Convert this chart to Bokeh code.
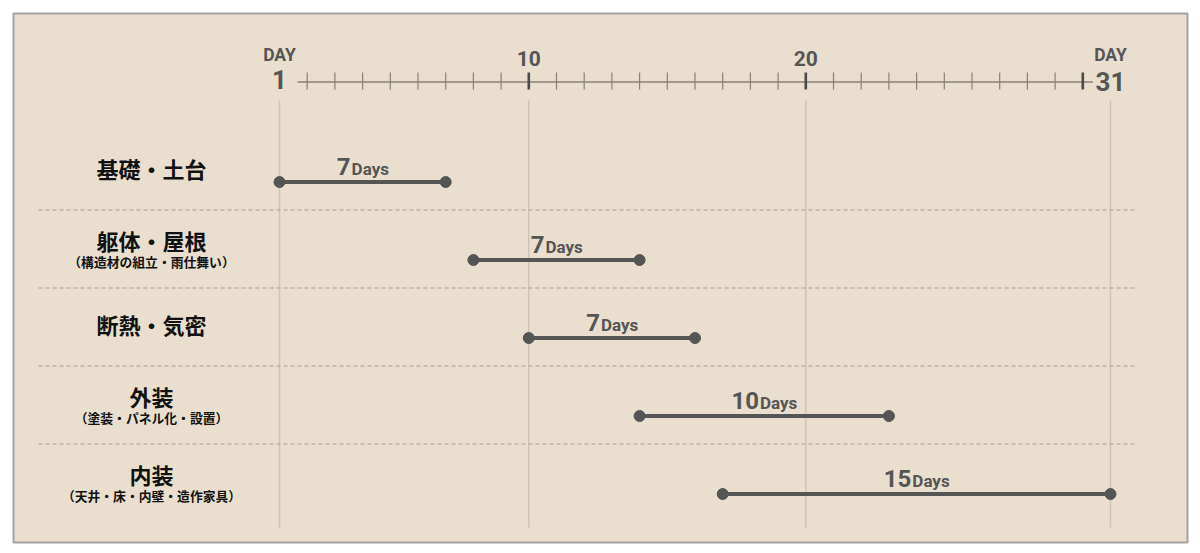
from bokeh.plotting import figure
from bokeh.models import Range1d, ColumnDataSource
from bokeh.core.properties import value
from bokeh.embed import file_html
from bokeh.resources import INLINE

# ---------------- data ----------------
tasks = ["基礎・土台", "躯体・屋根", "断熱・気密", "外装", "内装"]
task_notes = ["", "（構造材の組立・雨仕舞い）", "", "（塗装・パネル化・設置）", "（天井・床・内壁・造作家具）"]
start_day = [1, 8, 10, 14, 17]
end_day = [7, 14, 16, 23, 31]
duration_days = [7, 7, 7, 10, 15]
duration_unit = "Days"
first_day = 1
last_day = 31
labelled_days = [10, 20]
dark_ticks = [10, 20, 30]
grid_days = [1, 10, 20, 31]
edge_word = "DAY"

# ---------------- layout / style ----------------
PX_PER_DAY = 27.7
PX_PER_ROW = 78.0
FRAME_W, FRAME_H = 1174, 529
FRAME_LEFT, FRAME_TOP = 13, 13
DAY1_PX = 279.0 - FRAME_LEFT      # from frame left
ROW0_PX = 181.5 - FRAME_TOP       # from frame top

BG = "#EADFCE"
INK = "#555555"
LABEL_INK = "#111111"
NUM_FONT = value("Roboto")
JP_FONT = value("Noto Sans CJK JP")
CAP_MID = 0.36  # cap-centre above baseline, in em


def dx(px):
    return px / PX_PER_DAY


def dy(px):  # positive = downward (y range is flipped)
    return px / PX_PER_ROW


def abs_y(px):  # absolute page pixel -> row units
    return dy(px - 181.5)


x0 = first_day - dx(DAY1_PX)
x_range = Range1d(x0, x0 + dx(FRAME_W))
y_range = Range1d(start=dy(FRAME_H - ROW0_PX), end=-dy(ROW0_PX))

p = figure(width=FRAME_LEFT + FRAME_W + 5, height=FRAME_TOP + FRAME_H + 5,
           x_range=x_range, y_range=y_range,
           x_axis_type=None, y_axis_type=None, toolbar_location=None,
           output_backend="svg")
p.min_border_left = FRAME_LEFT
p.min_border_top = FRAME_TOP
p.min_border_right = 5
p.min_border_bottom = 5
p.grid.visible = False
p.background_fill_color = BG
p.border_fill_color = "white"
p.outline_line_color = "#a3a3a3"
p.outline_line_width = 2

rows = list(range(len(tasks)))

# vertical day guides
p.segment(x0=grid_days, x1=grid_days,
          y0=[abs_y(100)] * len(grid_days), y1=[abs_y(527)] * len(grid_days),
          line_color="#cdc4b6", line_width=1.5)

# dashed separators between rows
sep_rows = [r + dy(28) for r in rows[:-1]]
p.segment(x0=[first_day + dx(-241)] * len(sep_rows), x1=[last_day + dx(25)] * len(sep_rows),
          y0=sep_rows, y1=sep_rows, line_color="#a59f98", line_width=1, line_dash="4 3")

# ---------------- top day axis ----------------
AXIS_Y = abs_y(81.5)
p.segment(x0=[first_day + dx(18)], x1=[last_day - 1 + dx(10)], y0=[AXIS_Y], y1=[AXIS_Y],
          line_color="#8a8078", line_width=1.3)
minor = [d for d in range(first_day + 1, last_day) if d not in dark_ticks]
p.segment(x0=minor, x1=minor, y0=[AXIS_Y - dy(9.5)] * len(minor), y1=[AXIS_Y + dy(7.5)] * len(minor),
          line_color="#8a8078", line_width=1.2)
p.segment(x0=dark_ticks, x1=dark_ticks, y0=[AXIS_Y - dy(9.5)] * len(dark_ticks),
          y1=[AXIS_Y + dy(7.5)] * len(dark_ticks), line_color="#4a4a4a", line_width=2.6)

p.text(x=labelled_days, y=[abs_y(58)] * len(labelled_days), text=[str(d) for d in labelled_days],
       text_font=NUM_FONT, text_font_style="bold", text_font_size="21px",
       text_color=INK, text_align="center", text_baseline="middle")
p.text(x=[first_day, last_day], y=[abs_y(54)] * 2, text=[edge_word] * 2,
       text_font=NUM_FONT, text_font_style="bold", text_font_size="17.5px",
       text_color=INK, text_align="center", text_baseline="middle")
p.text(x=[first_day, last_day], y=[abs_y(79), abs_y(80.5)], text=[str(first_day), str(last_day)],
       text_font=NUM_FONT, text_font_style="bold", text_font_size="26px",
       text_color=INK, text_align="center", text_baseline="middle")

# ---------------- task labels ----------------
label_x = [first_day + dx(-128)] * len(tasks)
main_y = [r + (dy(-20) if n else dy(-14)) for r, n in zip(rows, task_notes)]
note_y = [r + dy(1.5) for r in rows]
p.text(x=label_x, y=main_y, text=tasks, text_font=JP_FONT, text_font_style="bold",
       text_font_size="22px", text_color=LABEL_INK, text_align="center", text_baseline="middle")
p.text(x=label_x, y=note_y, text=task_notes, text_font=JP_FONT, text_font_style="bold",
       text_font_size="12.8px", text_color=LABEL_INK, text_align="center", text_baseline="middle")

# ---------------- bars ----------------
bars = ColumnDataSource(dict(start=start_day, end=end_day, row=rows))
p.segment(x0="start", x1="end", y0="row", y1="row", source=bars, line_color=INK, line_width=4)
p.scatter(x=start_day + end_day, y=rows + rows, size=11, fill_color=INK, line_color=INK)

# duration labels: big number + small unit, sharing a baseline, centred over bar
NUM_SIZE, UNIT_SIZE = 24, 17
BASE = -6.5
w_unit = 2.2 * UNIT_SIZE
mids = [(s + e) / 2 for s, e in zip(start_day, end_day)]
splits = [m + dx((len(str(n)) * 0.56 * NUM_SIZE - w_unit) / 2) for m, n in zip(mids, duration_days)]
p.text(x=splits, y=[r + dy(BASE - CAP_MID * NUM_SIZE) for r in rows],
       text=[str(n) for n in duration_days], text_font=NUM_FONT,
       text_font_style="bold", text_font_size=f"{NUM_SIZE}px", text_color=INK,
       text_align="right", text_baseline="middle")
p.text(x=[s + dx(1) for s in splits], y=[r + dy(BASE - CAP_MID * UNIT_SIZE) for r in rows],
       text=[duration_unit] * len(rows), text_font=NUM_FONT,
       text_font_style="bold", text_font_size=f"{UNIT_SIZE}px", text_color=INK,
       text_align="left", text_baseline="middle")

open("out.html", "w").write(file_html(p, INLINE))
